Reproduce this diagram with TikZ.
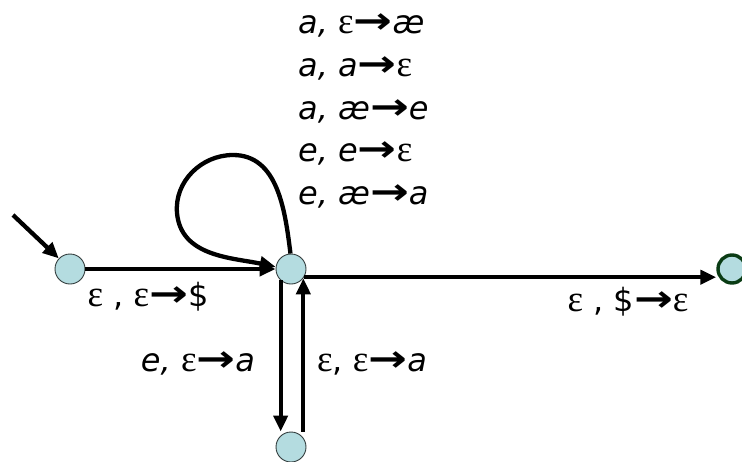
\documentclass[tikz,border=0pt]{standalone}
\usepackage{fontspec}
\usepackage{graphicx}
\setmainfont{DejaVu Sans}
\newfontfamily\epsfont{Liberation Serif}
\newfontfamily\arrfont{DejaVu Sans}
\usetikzlibrary{arrows.meta}
\newcommand\myeps{{\upshape\epsfont\fontsize{37}{37}\selectfont ε}}
\newcommand\myarr{{\upshape\arrfont\bfseries\scalebox{1.45}[1.15]{→}}}
\definecolor{stfill}{RGB}{180,220,224}
\definecolor{stdraw}{RGB}{50,60,60}
\definecolor{fingreen}{RGB}{10,60,20}
\tikzset{
  state/.style={circle, fill=stfill, draw=stdraw, line width=0.9pt, minimum size=30pt, inner sep=0pt},
  finstate/.style={state, draw=fingreen, line width=3.4pt, minimum size=28pt},
  conn/.style={line width=4.3pt, -{Triangle[length=16pt,width=14pt]}},
  lab/.style={font=\fontsize{32}{36}\selectfont, inner sep=0pt},
  toplab/.style={lab, anchor=west}
}
\begin{document}
\begin{tikzpicture}[x=1pt,y=1pt]
\useasboundingbox (0,0) rectangle (742,-461);
\node[state] (q0) at (70,-269) {};
\node[state] (q1) at (291,-269) {};
\node[state] (q2) at (291,-447) {};
\node[finstate] (fin) at (732,-269) {};
\coordinate (st) at (13,-215);
\coordinate (lt) at (233,-155);
\coordinate (ll) at (177,-213);
% start arrow
\draw[conn] (st) -- (q0);
% q0 -> q1
\draw[conn] (q0) -- (q1);
% loop
\draw[conn] (q1.92) to[out=97,in=0] (lt) to[out=180,in=95] (ll) to[out=-85,in=168] (q1.172);
% q1 -> final
\draw[conn] (q1.-32) -- (q1.-32 -| fin.west);
% q1 -> q2
\draw[conn] (q1.228) -- (q1.228 |- q2.north);
% q2 -> q1
\draw[conn] (q1.-37 |- q2.north) -- (q1.-37);
% labels
\node[lab] (l01) at (148,-297) {\myeps\ , \myeps\myarr\$};
\node[lab] (l1f) at (628,-302) {\myeps\ , \$\myarr\myeps};
\node[lab] (l12) at (198,-363) {\itshape e, \myeps\myarr a};
\node[lab] (l21) at (372,-363) {\myeps, \myeps\myarr{\itshape a}};
\node[toplab] (t1) at (298,-25) {\itshape a, \myeps\myarr æ};
\node[toplab] (t2) at (298,-68) {\itshape a, a\myarr\myeps};
\node[toplab] (t3) at (298,-111) {\itshape a, æ\myarr e};
\node[toplab] (t4) at (298,-153) {\itshape e, e\myarr\myeps};
\node[toplab] (t5) at (298,-196) {\itshape e, æ\myarr a};
\end{tikzpicture}
\end{document}
